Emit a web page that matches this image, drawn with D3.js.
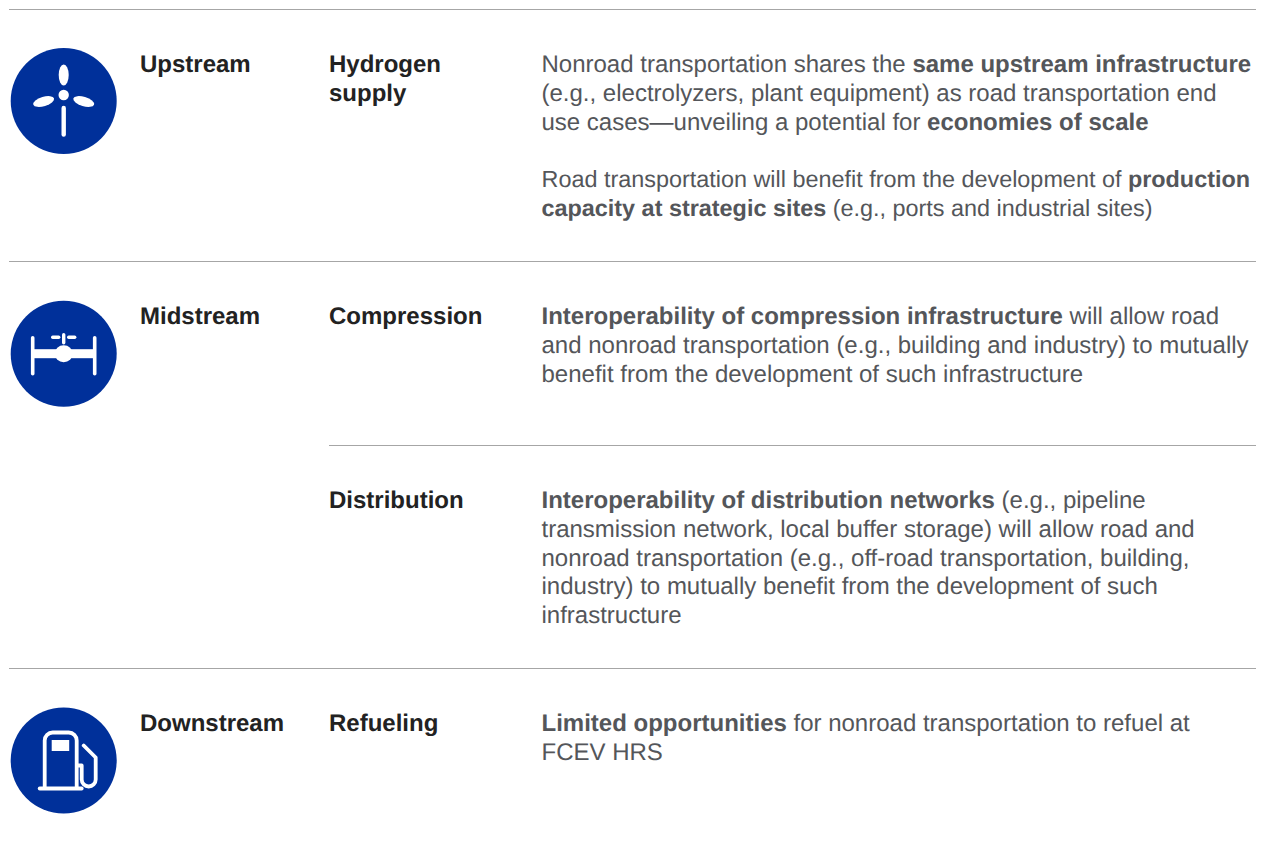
<!DOCTYPE html>
<html><head><meta charset="utf-8">
<script src="https://cdnjs.cloudflare.com/ajax/libs/d3/7.8.5/d3.min.js"></script>
<style>html,body{margin:0;background:#fff}svg{display:block}text{font-family:"Liberation Sans",Arial,sans-serif;font-size:24px;text-rendering:geometricPrecision}</style>
</head><body><svg id="c" width="1261" height="843"></svg>
<script>
const stageNames=["Upstream","Midstream","Downstream"];
const stageRows=[64,316,723];
const subLabels=[["Hydrogen","supply"],["Compression"],["Distribution"],["Refueling"]];
const subRows=[64,316,500,723];
const ruleRows=[9.5,261.5,445.5,668.5];
const ruleStarts=[9,9,329,9];
const iconKinds=["wind","valve","pump"];
const iconRows=[101,353.7,760.5];
const paragraphRows=[64,179,316,500,723];
const paragraphSizes=[24,23.4,24,24,24];
const paragraphs=[
 [[["Nonroad transportation shares the ",0],["same upstream infrastructure",1]],[["(e.g., electrolyzers, plant equipment) as road transportation end",0]],[["use cases—unveiling a potential for ",0],["economies of scale",1]]],
 [[["Road transportation will benefit from the development of ",0],["production",1]],[["capacity at strategic sites",1],[" (e.g., ports and industrial sites)",0]]],
 [[["Interoperability of compression infrastructure",1],[" will allow road",0]],[["and nonroad transportation (e.g., building and industry) to mutually",0]],[["benefit from the development of such infrastructure",0]]],
 [[["Interoperability of distribution networks",1],[" (e.g., pipeline",0]],[["transmission network, local buffer storage) will allow road and",0]],[["nonroad transportation (e.g., off-road transportation, building,",0]],[["industry) to mutually benefit from the development of such",0]],[["infrastructure",0]]],
 [[["Limited opportunities",1],[" for nonroad transportation to refuel at",0]],[["FCEV HRS",0]]]
];
const svg=d3.select("#c");
const LH=28.55, BLUE="#00309a", DARK="#222222", GREY="#54565a", W="#fff";
svg.selectAll("line.r").data(ruleRows).join("line").attr("class","r")
 .attr("x1",(d,i)=>ruleStarts[i]).attr("x2",1256).attr("y1",d=>d).attr("y2",d=>d).attr("stroke","#a6a6a6").attr("stroke-width",1);
svg.selectAll("text.st").data(stageNames).join("text").attr("class","st").attr("x",140).attr("y",(d,i)=>stageRows[i]).attr("dy","0.35em")
 .attr("fill",DARK).attr("font-weight",700).text(d=>d);
subLabels.forEach((s,k)=>s.forEach((l,i)=>svg.append("text").attr("x",329).attr("y",subRows[k]+i*LH).attr("dy","0.35em").attr("fill",DARK).attr("font-weight",700).text(l)));
paragraphs.forEach((p,k)=>p.forEach((l,i)=>{
 const t=svg.append("text").attr("x",541.5).attr("y",paragraphRows[k]+i*LH).attr("dy","0.35em").attr("fill",GREY).style("font-size",paragraphSizes[k]+"px").style("white-space","pre");
 t.selectAll("tspan").data(l).join("tspan").attr("font-weight",d=>d[1]?700:400).text(d=>d[0]);
}));
iconKinds.forEach((kind,i)=>{
 const g=svg.append("g").attr("transform",`translate(63.7,${iconRows[i]})`);
 g.append("circle").attr("r",53).attr("fill",BLUE);
 const line=(x1,y1,x2,y2,w)=>g.append("line").attr("x1",x1).attr("y1",y1).attr("x2",x2).attr("y2",y2).attr("stroke",W).attr("stroke-width",w).attr("stroke-linecap","round");
 if(kind==="wind"){
  g.append("circle").attr("cy",-6).attr("r",5.2).attr("fill",W);
  line(0,7,0,33.5,4.4);
  g.append("ellipse").attr("cy",-26).attr("rx",5).attr("ry",10.5).attr("fill",W);
  g.append("ellipse").attr("cx",-20).attr("cy",0.5).attr("rx",10.8).attr("ry",4.6).attr("fill",W).attr("transform","rotate(-17 -20 0.5)");
  g.append("ellipse").attr("cx",20).attr("cy",0.5).attr("rx",10.8).attr("ry",4.6).attr("fill",W).attr("transform","rotate(17 20 0.5)");
 } else if(kind==="valve"){
  line(-31,-16,-31,20,3.6);
  line(31,-16,31,20,3.6);
  g.append("rect").attr("x",-31).attr("y",-4.5).attr("width",62).attr("height",9).attr("fill",W);
  g.append("ellipse").attr("rx",9).attr("ry",8.5).attr("fill",W);
  line(0,-19,0,-11,3.4);
  line(-11,-16.5,-5,-16.5,3.4);
  line(5,-16.5,11,-16.5,3.4);
 } else {
  const s=g.append("g").attr("fill","none").attr("stroke",W).attr("stroke-width",3.8).attr("stroke-linecap","round").attr("stroke-linejoin","round");
  s.append("path").attr("d","M-19,27V-20a8,8 0 0 1 8,-8H5a8,8 0 0 1 8,8V27");
  s.append("line").attr("x1",-24).attr("x2",18).attr("y1",28).attr("y2",28);
  s.append("path").attr("d","M14,5H18V19a7,7 0 0 0 14,0V-3L20,-15");
  g.append("rect").attr("x",-12).attr("y",-20.5).attr("width",17.5).attr("height",11).attr("fill",W);
 }
});
</script></body></html>
